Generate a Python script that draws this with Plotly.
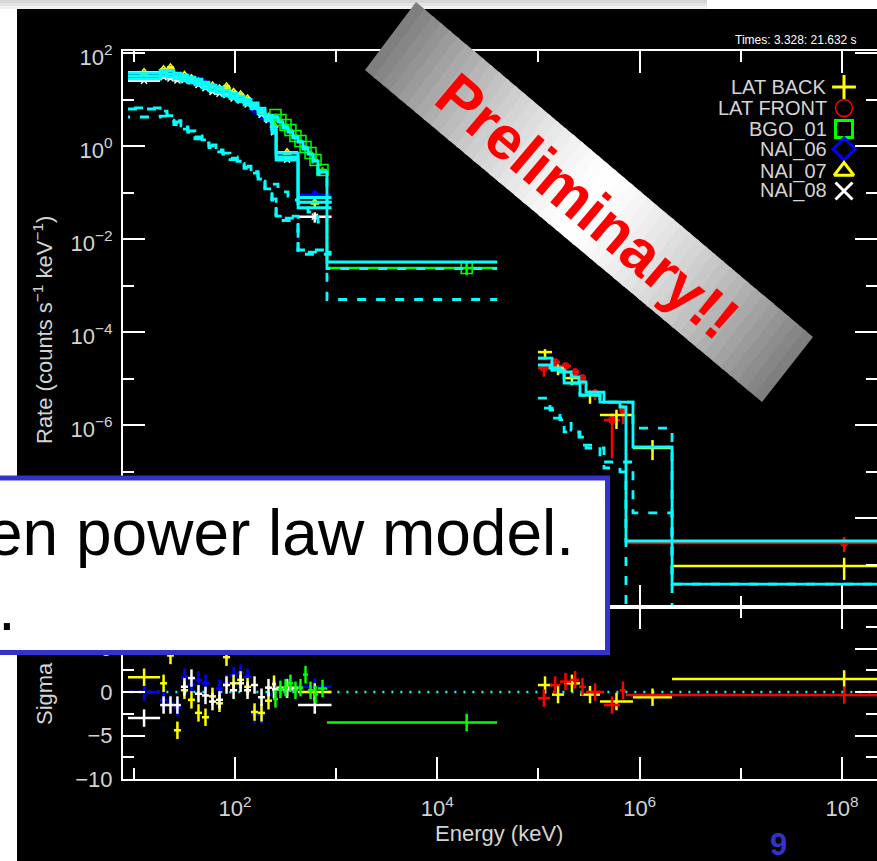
import numpy as np
import plotly.graph_objects as go

W, H = 877, 861
FONT = "Liberation Sans"
TXT = "#d4d4d4"
CYAN, YEL, RED, GRN, BLU, WHT = "#00ffff", "#ffff00", "#ff0000", "#00ff00", "#0000ff", "#ffffff"

# ---------------- GBM NaI detectors (keV, counts s^-1 keV^-1) ----------------
nai_edges = [8.76, 18.2, 21.3, 24.9, 29.2, 34.3, 40.2, 47.2, 55.3, 64.9, 76.1,
             89.3, 105, 123, 144, 169, 198, 232, 255, 420, 900]
nai_relerr = [0.03, 0.05, 0.05, 0.05, 0.05, 0.05, 0.05, 0.05, 0.05, 0.05,
              0.05, 0.06, 0.06, 0.06, 0.07, 0.07, 0.08, 0.10, 0.08, 0.25]

nai06_rate = [32.0, 35.5, 33.0, 29.1, 31.5, 27.5, 25.5, 21.5, 17.3, 16.3,
              14.5, 13.3, 11.7, 9.7, 6.0, 4.6, 3.9, 2.28, 0.61, 0.09]
nai06_model = [32.0, 37.2, 35.3, 32.0, 29.0, 26.3, 23.8, 20.5, 17.7, 16.0,
               13.8, 11.9, 10.3, 8.8, 7.3, 5.65, 4.0, 2.21, 0.58, 0.078]
nai06_comp = [6.25, 5.65, 4.2, 3.28, 2.56, 2.0, 1.56, 1.28, 1.0, 0.82,
              0.67, 0.55, 0.45, 0.35, 0.28, 0.186, 0.113, 0.069, 0.028, 0.0052]
nai06_sigma = [0.0, -0.9, -1.3, -1.8, 1.7, 0.9, 1.4, 1.0, -0.5, 0.4,
               1.0, 1.9, 2.2, 1.7, -2.6, -2.6, -0.3, 0.3, 0.6, 0.6]

nai07_rate = [38.7, 44.9, 49.1, 28.7, 33.7, 28.8, 24.1, 20.2, 19.9, 17.2,
              19.1, 14.5, 12.8, 10.5, 7.1, 5.4, 4.2, 2.77, 0.73, 0.062]
nai07_model = [36.8, 42.8, 40.6, 36.8, 33.4, 30.2, 27.4, 23.6, 20.4, 18.4,
               15.9, 13.7, 11.8, 10.1, 8.4, 6.5, 4.6, 2.54, 0.70, 0.062]
nai07_comp = [6.6, 6.0, 4.5, 3.5, 2.7, 2.1, 1.65, 1.35, 1.05, 0.86,
              0.70, 0.58, 0.47, 0.37, 0.29, 0.195, 0.12, 0.073, 0.031, 0.0058]
nai07_sigma = [1.7, 1.0, 4.2, -4.4, 0.2, -0.9, -2.4, -2.9, -0.5, -1.3,
               4.0, 1.0, 1.4, 0.6, -2.3, -2.4, -1.0, 0.9, 0.5, 0.0]

nai08_rate = [25.3, 30.0, 28.4, 25.7, 26.0, 24.7, 20.5, 17.4, 14.6, 13.3,
              12.5, 10.5, 9.5, 7.8, 6.8, 4.7, 3.6, 1.98, 0.51, 0.030]
nai08_model = [27.8, 32.4, 30.7, 27.8, 25.2, 22.9, 20.7, 17.8, 15.4, 13.9,
               12.0, 10.4, 9.0, 7.7, 6.4, 4.9, 3.5, 1.92, 0.50, 0.047]
nai08_comp = [4.2, 4.4, 3.6, 2.9, 2.3, 1.8, 1.42, 1.17, 0.92, 0.75,
              0.62, 0.51, 0.42, 0.33, 0.26, 0.175, 0.105, 0.064, 0.025, 0.0047]
nai08_sigma = [-3.0, -1.5, -1.5, -1.5, 0.6, 1.6, -0.2, -0.4, -1.1, -0.9,
               0.8, 0.2, 1.0, 0.2, 0.8, -0.6, 0.5, 0.3, 0.3, -1.5]

# ---------------- GBM BGO detector ----------------
bgo_edges = [237, 266, 298, 334, 374, 420, 470, 527, 590, 662, 811, 39000]
bgo_energy = [251, 281, 316, 353, 396, 444, 498, 558, 625, 733, 19500]
bgo_rate = [4.64, 3.62, 2.83, 2.21, 1.64, 1.28, 0.95, 0.71, 0.50, 0.305, 2.38e-3]
bgo_relerr = [0.06, 0.06, 0.07, 0.07, 0.08, 0.08, 0.09, 0.10, 0.12, 0.15, 0.30]
bgo_model = [4.2, 3.28, 2.56, 2.0, 1.56, 1.22, 0.91, 0.67, 0.48, 0.276, 3.2e-3]
bgo_comp_a = [0.152, 0.125, 0.103, 0.084, 0.069, 0.057, 0.046, 0.038, 0.030, 0.023, 2.3e-3]
bgo_comp_b = [4.05, 3.15, 2.45, 1.9, 1.49, 1.16, 0.86, 0.63, 0.45, 0.25, 5.0e-4]
bgo_sigma = [-0.8, 0.3, 0.5, 1.0, 0.2, 0.5, 2.0, 0.2, -0.3, 0.4, -3.5]

# ---------------- LAT front ----------------
latf_edges = [9.88e4, 1.30e5, 1.63e5, 2.10e5, 2.51e5, 2.95e5, 4.44e5, 6.39e5, 7.32e5, 1.4e10]
latf_energy = [1.13e5, 1.46e5, 1.85e5, 2.30e5, 2.72e5, 3.62e5, 5.33e5, 6.84e5, 1.05e8]
latf_rate = [1.68e-5, 2.26e-5, 1.86e-5, 1.38e-5, 1.02e-5, 4.9e-6, 1.28e-6, 2.1e-6, 2.9e-9]
latf_err_lo = [0.35, 0.25, 0.25, 0.30, 0.30, 0.30, 0.85, 0.50, 0.36]
latf_err_hi = [0.15, 0.15, 0.15, 0.20, 0.20, 0.20, 0.40, 0.30, 0.35]
latf_model = [1.95e-5, 1.68e-5, 1.38e-5, 1.08e-5, 8.4e-6, 5.1e-6, 3.1e-6, 2.44e-6, 3.2e-9]
latf_comp = [3.8e-6, 2.1e-6, 1.29e-6, 7.8e-7, 5.5e-7, 3.2e-7, 1.19e-7, 9.8e-8, 3e-11]
latf_sigma = [-0.7, 0.8, 1.2, 1.4, 0.6, 0.0, -1.5, 0.2, -0.35]

# ---------------- LAT back ----------------
latb_edges = [9.88e4, 1.36e5, 1.79e5, 2.57e5, 4.05e5, 8.59e5, 2.09e6, 4.8e9]
latb_energy = [1.16e5, 1.56e5, 2.14e5, 3.23e5, 5.90e5, 1.34e6, 1.05e8]
latb_rate = [3.7e-5, 1.68e-5, 1.02e-5, 4.4e-6, 1.64e-6, 3.2e-7, 9.3e-10]
latb_err_lo = [0.30, 0.30, 0.30, 0.35, 0.50, 0.45, 0.50]
latb_err_hi = [0.15, 0.20, 0.20, 0.25, 0.30, 0.48, 0.50]
latb_model = [2.75e-5, 1.52e-5, 8.0e-6, 4.4e-6, 3.1e-6, 3.36e-7, 3.8e-10]
latb_comp = [2.3e-6, 1.41e-6, 7.1e-7, 3.7e-7, 1.6e-7, 1.29e-8, 1e-11]
latb_comp2 = [2.75e-5, 1.52e-5, 8.0e-6, 4.4e-6, 3.1e-6, 8.6e-7, 3.8e-10]
latb_sigma = [0.8, -0.3, 1.0, -0.3, -1.1, -0.6, 1.5]

legend_names = ["LAT BACK", "LAT FRONT", "BGO_01", "NAI_06", "NAI_07", "NAI_08"]
legend_colors = [YEL, RED, GRN, BLU, YEL, WHT]
legend_symbols = ["cross-thin-open", "circle-open", "square-open",
                  "diamond-open", "triangle-up-open", "x-thin-open"]

x_tickvals = [1e2, 1e4, 1e6, 1e8]
x_ticktext = ["10<sup>2</sup>", "10<sup>4</sup>", "10<sup>6</sup>", "10<sup>8</sup>"]
y_tickvals = [1e2, 1e0, 1e-2, 1e-4, 1e-6, 1e-8]
y_ticktext = ["10<sup>2</sup>", "10<sup>0</sup>", "10<sup>\u22122</sup>",
              "10<sup>\u22124</sup>", "10<sup>\u22126</sup>", "10<sup>\u22128</sup>"]
s_tickvals = [-10, -5, 0, 5]
s_ticktext = ["\u221210", "\u22125", "0", "5"]

fig = go.Figure()


def centers(edges):
    e = np.array(edges, dtype=float)
    return np.sqrt(e[:-1] * e[1:])


def add_points(x, lo, hi, y, ylo, yhi, color, symbol, size, yaxis, xaxis):
    x = np.asarray(x, float)
    fig.add_trace(go.Scatter(
        x=x, y=y, mode="markers", xaxis=xaxis, yaxis=yaxis, showlegend=False,
        marker=dict(symbol=symbol, size=size, color=color, line=dict(color=color, width=1.5)),
        error_x=dict(type="data", symmetric=False, array=np.asarray(hi) - x,
                     arrayminus=x - np.asarray(lo), width=0, thickness=2.5, color=color),
        error_y=dict(type="data", symmetric=False, array=yhi, arrayminus=ylo,
                     width=0, thickness=2.5, color=color)))


def add_step(edges, vals, color, dash="solid", width=2.8):
    fig.add_trace(go.Scatter(
        x=list(edges), y=list(vals) + [vals[-1]], mode="lines", xaxis="x", yaxis="y",
        showlegend=False, line=dict(shape="hv", color=color, width=width, dash=dash)))


# one dash rhythm in three phases, so overlapping components read as one band
DASH = "9px,10px"
DASH_B = "0px,6px,9px,4px"
DASH_C = "2px,10px,7px,0px"

ne = np.array(nai_edges, float)
nc = centers(nai_edges)
nerr = np.array(nai_relerr)

# ---- spectrum panel: data ----
for rate, col, sym, sz in [(nai06_rate, BLU, "diamond-open", 6),
                           (nai07_rate, YEL, "triangle-up-open", 7),
                           (nai08_rate, WHT, "x-thin-open", 6)]:
    r = np.array(rate)
    add_points(nc, ne[:-1], ne[1:], r, r * nerr, r * nerr, col, sym, sz, "y", "x")

be = np.array(bgo_edges, float)
br = np.array(bgo_rate)
add_points(bgo_energy, be[:-1], be[1:], br, br * np.array(bgo_relerr),
           br * np.array(bgo_relerr), GRN, "square-open", 11, "y", "x")

fe = np.array(latf_edges, float)
fr = np.array(latf_rate)
add_points(latf_energy, fe[:-1], fe[1:], fr, fr * np.array(latf_err_lo),
           fr * np.array(latf_err_hi), RED, "circle-open", 6, "y", "x")

ke = np.array(latb_edges, float)
kr = np.array(latb_rate)
add_points(latb_energy, ke[:-1], ke[1:], kr, kr * np.array(latb_err_lo),
           kr * np.array(latb_err_hi), YEL, "cross-thin-open", 4, "y", "x")

# ---- spectrum panel: model components (dashed) and totals (solid) ----
add_step(nai_edges, nai06_comp, CYAN, DASH)
add_step(nai_edges, nai07_comp, CYAN, DASH_B)
add_step(nai_edges, nai08_comp, CYAN, DASH_C)
add_step(bgo_edges, bgo_comp_a, CYAN, DASH)
add_step(bgo_edges, bgo_comp_b, CYAN, DASH)
add_step(latf_edges, latf_comp, CYAN, DASH)
add_step(latb_edges, latb_comp, CYAN, DASH_B)
add_step(latb_edges, latb_comp2, CYAN, DASH)

for model in (nai06_model, nai07_model, nai08_model):
    add_step(nai_edges, model, CYAN)
add_step(bgo_edges, bgo_model, CYAN)
add_step(latf_edges, latf_model, CYAN)
add_step(latb_edges, latb_model, CYAN)

# ---- residual panel ----
fig.add_trace(go.Scatter(x=[5, 1e9], y=[0, 0], mode="lines", xaxis="x2", yaxis="y2",
                         showlegend=False,
                         line=dict(color=CYAN, width=2.5, dash="2px,7px")))

ones_n = np.ones(len(nc))
for sig, col in [(nai06_sigma, BLU), (nai07_sigma, YEL), (nai08_sigma, WHT)]:
    add_points(nc, ne[:-1], ne[1:], sig, ones_n, ones_n, col, "circle", 1, "y2", "x2")
add_points(bgo_energy, be[:-1], be[1:], bgo_sigma, np.ones(len(bgo_sigma)),
           np.ones(len(bgo_sigma)), GRN, "circle", 1, "y2", "x2")
add_points(latb_energy, ke[:-1], ke[1:], latb_sigma, np.ones(len(latb_sigma)),
           np.ones(len(latb_sigma)), YEL, "circle", 1, "y2", "x2")
add_points(latf_energy, fe[:-1], fe[1:], latf_sigma, np.ones(len(latf_sigma)),
           np.ones(len(latf_sigma)), RED, "circle", 1, "y2", "x2")

# ---- legend glyphs on a pixel-space overlay ----
legend_rows_px = [87, 108, 129, 149, 171, 191]
for name, col, sym, yrow in zip(legend_names, legend_colors, legend_symbols, legend_rows_px):
    fig.add_trace(go.Scatter(x=[844], y=[yrow], mode="markers", xaxis="x3", yaxis="y3",
                             showlegend=False, hoverinfo="skip",
                             marker=dict(symbol=sym, size=17, color=col,
                                         line=dict(color=col, width=3 if col != RED else 1.5))))

# ---------------- axes ----------------
tickfont = dict(family=FONT, size=22, color=TXT)
base = dict(showgrid=False, zeroline=False, showline=True, linecolor="white", linewidth=2,
            ticks="inside", tickcolor="white", tickwidth=2, mirror="ticks",
            tickfont=tickfont, ticklen=22, automargin=False)
minor_x = dict(tickmode="array", tickvals=[1e1, 1e3, 1e5, 1e7], ticklen=11,
               ticks="inside", tickcolor="white", tickwidth=2)

fig.update_layout(
    width=W, height=H, autosize=False,
    margin=dict(l=0, r=0, t=0, b=0, pad=0, autoexpand=False),
    paper_bgcolor="white", plot_bgcolor="rgba(0,0,0,0)",
    showlegend=False,
    xaxis=dict(type="log", domain=[123 / W, 1], range=[0.893, 8.346], anchor="y",
               tickmode="array", tickvals=x_tickvals, ticktext=x_ticktext,
               showticklabels=False, minor=minor_x, **base),
    yaxis=dict(type="log", domain=[1 - 607 / H, 1 - 51 / H], range=[-9.914, 2.043],
               anchor="x", tickmode="array", tickvals=y_tickvals, ticktext=y_ticktext,
               ticklabelstandoff=4, ticklabelshift=4,
               minor=dict(tickmode="array",
                          tickvals=[1e1, 1e-1, 1e-3, 1e-5, 1e-7, 1e-9],
                          ticklen=11, ticks="inside", tickcolor="white", tickwidth=2),
               **base),
    xaxis2=dict(type="log", domain=[123 / W, 1], range=[0.893, 8.346], anchor="y2",
                tickmode="array", tickvals=x_tickvals, ticktext=x_ticktext,
                ticklabelstandoff=9, minor=minor_x, **base),
    yaxis2=dict(domain=[1 - 779 / H, 1 - 607 / H], range=[-10, 9.77], anchor="x2",
                tickmode="array", tickvals=s_tickvals, ticktext=s_ticktext,
                ticklabelstandoff=4,
                minor=dict(tickmode="array", tickvals=[-7.5, -2.5, 2.5, 7.5],
                           ticklen=11, ticks="inside", tickcolor="white", tickwidth=2),
                **base),
    xaxis3=dict(domain=[0, 1], range=[0, W], anchor="y3", visible=False, fixedrange=True),
    yaxis3=dict(domain=[0, 1], range=[H, 0], anchor="x3", visible=False, fixedrange=True),
)


def P(x, y):
    return x / W, 1 - y / H


shapes = []
# slide frame: dark image area and the faint shadow strip above it
x0, y0 = P(17, 9)
x1, y1 = P(877, 861)
shapes.append(dict(type="rect", xref="paper", yref="paper", x0=x0, y0=y1, x1=x1, y1=y0,
                   fillcolor="black", line=dict(width=0), layer="below"))
for top, bot, col in [(0, 3, "#d6d6d6"), (3, 6, "#e3e3e3"), (6, 9, "#f0f0f0")]:
    a, b = P(0, top)
    c, d = P(707, bot)
    shapes.append(dict(type="rect", xref="paper", yref="paper", x0=a, y0=d, x1=c, y1=b,
                       fillcolor=col, line=dict(width=0), layer="below"))

# diagonal "Preliminary" banner with a grey-white-grey gradient
A = np.array([416.0, 2.0]); B = np.array([813.0, 337.0])
C = np.array([762.0, 402.0]); D = np.array([365.0, 70.0])
N = 48
for i in range(N):
    t0 = i / N
    t1 = min(1.0, (i + 1) / N + 0.006)
    pts = [A + t0 * (B - A), A + t1 * (B - A), D + t1 * (C - D), D + t0 * (C - D)]
    tm = (i + 0.5) / N
    g = int(round(255 - 132 * abs(2 * tm - 1) ** 1.35))
    path = "M " + " L ".join("%.5f,%.5f" % P(*p) for p in pts) + " Z"
    shapes.append(dict(type="path", xref="paper", yref="paper", path=path,
                       fillcolor="rgb(%d,%d,%d)" % (g, g, g), line=dict(width=0),
                       layer="above"))

# caption box overlapping the lower-left of the plot
a, b = P(-5, 478)
c, d = P(607.5, 652.5)
shapes.append(dict(type="rect", xref="paper", yref="paper", x0=a, y0=d, x1=c, y1=b,
                   fillcolor="white", line=dict(color="#3333cc", width=5), layer="above"))
fig.update_layout(shapes=shapes)

ann = []


def text(x, y, s, size, color, xanchor="center", angle=0, family=FONT):
    px_, py_ = P(x, y)
    ann.append(dict(x=px_, y=py_, xref="paper", yref="paper", text=s, showarrow=False,
                    xanchor=xanchor, yanchor="middle", textangle=angle,
                    font=dict(family=family, size=size, color=color)))


text(587, 206, "<b>Preliminary!!</b>", 61, RED, angle=40.2)
text(-15, 533, "en power law model.", 64, "black", xanchor="left")
text(18, 608, ".", 64, "black", xanchor="right")
text(778, 844, "<b>9</b>", 31, "#3333cc")
text(43, 330, "Rate (counts s<sup>\u22121</sup> keV<sup>\u22121</sup>)", 22, TXT, angle=-90)
text(44, 694, "Sigma", 22, TXT, angle=-90)
text(499, 833, "Energy (keV)", 22, TXT)
text(859, 40, "Times: 3.328: 21.632 s", 12, "white", xanchor="right")
for name, yrow in zip(legend_names, legend_rows_px):
    text(829, yrow, name, 20, TXT, xanchor="right")
fig.update_layout(annotations=ann)

fig.write_html("out.html", config={"displayModeBar": False, "staticPlot": True})
